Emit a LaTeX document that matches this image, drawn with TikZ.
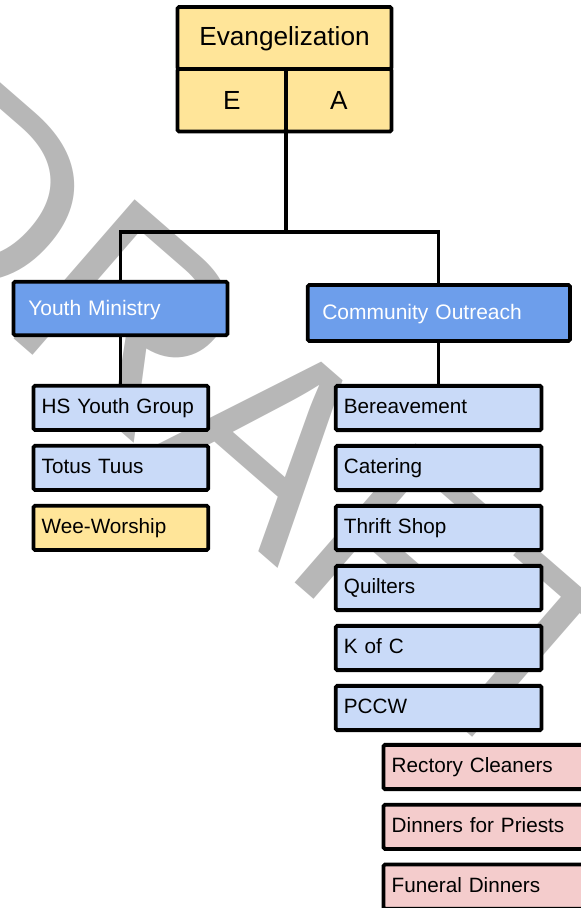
\documentclass[tikz,border=0pt]{standalone}
\usepackage{fontspec}
\setmainfont{Liberation Sans}
\definecolor{goldfill}{HTML}{FFE599}
\definecolor{deepblue}{HTML}{6D9EEB}
\definecolor{paleblue}{HTML}{C9DAF8}
\definecolor{pinkfill}{HTML}{F4CCCC}
\definecolor{markgray}{HTML}{B7B7B7}
\begin{document}
\begin{tikzpicture}[x=1pt,y=-1pt,
  frame/.style={draw=black, line width=3.8pt, rectangle, rounded corners=1.5pt},
  cell/.style={frame, fill=goldfill, inner sep=0pt,
    font=\fontsize{26.2}{30}\selectfont, text height=18.8pt},
  headbox/.style={frame, fill=deepblue, text=white, inner ysep=0pt, align=left,
    font=\fontsize{21}{24}\selectfont, text height=15pt},
  itembox/.style={frame, inner xsep=8.2pt, inner ysep=0pt, align=left,
    minimum height=44.25pt, font=\fontsize{20.7}{24}\selectfont,
    text height=14.8pt, text depth=3.8pt},
  leftcol/.style={itembox, minimum width=174.75pt, text width=158.35pt},
  rightcol/.style={itembox, minimum width=205.75pt, text width=189.35pt},
  link/.style={draw=black, line width=3.2pt}
]
\useasboundingbox (0,0) rectangle (581,908);
\clip (0,0) rectangle (581,908);

% watermark behind everything
\node[anchor=base west, rotate=-41, inner sep=0pt, text=markgray,
  font=\fontsize{268}{268}\selectfont] (draftmark) at (-149,197) {DRAFT};

% top block
\node[cell, minimum width=214pt, minimum height=62pt, text depth=4.8pt]
  (evang) at (284.5,38) {Evangelization};
\node[cell, minimum width=108.5pt, minimum height=62.5pt, text depth=0pt]
  (ecell) at (231.75,100.25) {E};
\node[cell, minimum width=105.5pt, minimum height=62.5pt, text depth=0pt]
  (acell) at (338.75,100.25) {A};

% second level
\node[headbox, minimum width=214pt, minimum height=53.5pt, inner xsep=14.8pt,
  text width=184.4pt, text depth=1.8pt] (ym) at (120.5,308.5) {Youth Ministry};
\node[headbox, minimum width=262.2pt, minimum height=56pt, inner xsep=14.5pt,
  text width=233.2pt, text depth=3pt] (co) at (438.85,313) {Community Outreach};

% youth ministry groups
\node[leftcol, fill=paleblue] (hs) at (120.9,407.9) {HS Youth Group};
\node[leftcol, fill=paleblue] (totus) at (120.9,467.9) {Totus Tuus};
\node[leftcol, fill=goldfill] (wee) at (120.9,527.9) {Wee-Worship};

% community outreach groups
\node[rightcol, fill=paleblue] (ber) at (438.6,408) {Bereavement};
\node[rightcol, fill=paleblue] (cat) at (438.6,468) {Catering};
\node[rightcol, fill=paleblue] (thrift) at (438.6,528) {Thrift Shop};
\node[rightcol, fill=paleblue] (quilt) at (438.6,588) {Quilters};
\node[rightcol, fill=paleblue] (kofc) at (438.6,648) {K of C};
\node[rightcol, fill=paleblue] (pccw) at (438.6,708) {PCCW};

% PCCW sub-groups
\node[rightcol, fill=pinkfill] (rect) at (486.4,767) {Rectory Cleaners};
\node[rightcol, fill=pinkfill] (dinp) at (486.4,826.8) {Dinners for Priests};
\node[rightcol, fill=pinkfill] (fund) at (486.4,886.6) {Funeral Dinners};

% connectors
\coordinate (split) at (286,232);
\draw[link] (split |- ecell.south) -- (split);
\draw[link] (ym.north) |- (split) -| (co.north);
\draw[link] (ym.south) -- (ym.south |- hs.north);
\draw[link] (co.south) -- (co.south |- ber.north);
\end{tikzpicture}
\end{document}
